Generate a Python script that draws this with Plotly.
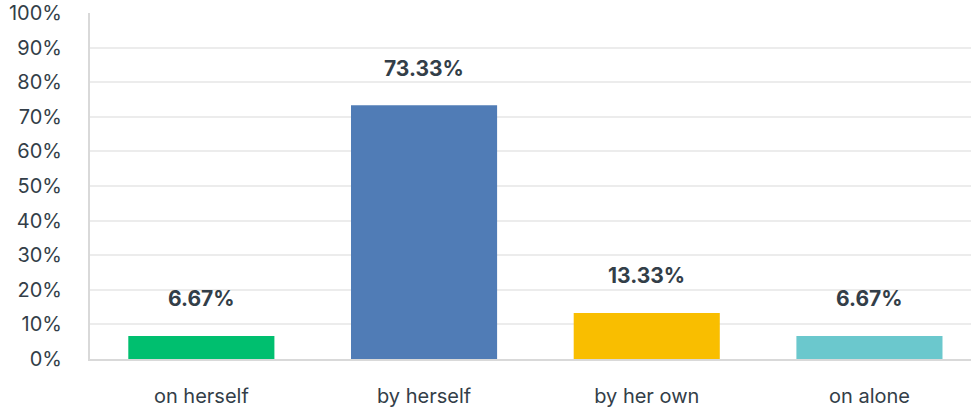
import plotly.graph_objects as go

categories = ["on herself", "by herself", "by her own", "on alone"]
values = [6.67, 73.33, 13.33, 6.67]
colors = ["#00BF6F", "#507CB6", "#F9BE00", "#6BC8CD"]
tick_vals = [0, 10, 20, 30, 40, 50, 60, 70, 80, 90, 100]
tick_text = [f"{v}%" for v in tick_vals]

text_color = "#333E48"
font_family = "Inter, Roboto, sans-serif"

fig = go.Figure()
fig.add_trace(go.Bar(
    x=list(range(len(categories))),
    y=values,
    marker=dict(color=colors, line=dict(width=0)),
    width=0.656,
    hoverinfo="skip",
))

for i, v in enumerate(values):
    fig.add_annotation(
        x=i, y=v, text=f"<b>{v:.2f}%</b>", showarrow=False,
        yshift=37, yanchor="middle",
        font=dict(size=21, color=text_color, family=font_family),
    )

fig.update_layout(
    width=971, height=412,
    margin=dict(l=90, r=0, t=13, b=53),
    plot_bgcolor="white", paper_bgcolor="white",
    showlegend=False,
    font=dict(family=font_family, color=text_color, size=20),
    xaxis=dict(
        tickmode="array",
        tickvals=list(range(len(categories))),
        ticktext=categories,
        range=[-0.5, 3.456],
        showgrid=False,
        showline=True, linecolor="#d9d9d9", linewidth=2,
        ticks="", ticklabelstandoff=18,
        tickfont=dict(size=20, color=text_color),
        zeroline=False, automargin=False,
        fixedrange=True,
    ),
    yaxis=dict(
        range=[0, 100],
        tickmode="array", tickvals=tick_vals, ticktext=tick_text,
        showgrid=True, gridcolor="#ececec", gridwidth=1.5,
        showline=True, linecolor="#d9d9d9", linewidth=2,
        ticks="", ticklabelstandoff=22,
        tickfont=dict(size=20, color=text_color),
        zeroline=False, automargin=False,
        fixedrange=True,
    ),
)

fig.write_html("out.html", config={"displayModeBar": False},
               post_script="document.body.style.margin='0';")
